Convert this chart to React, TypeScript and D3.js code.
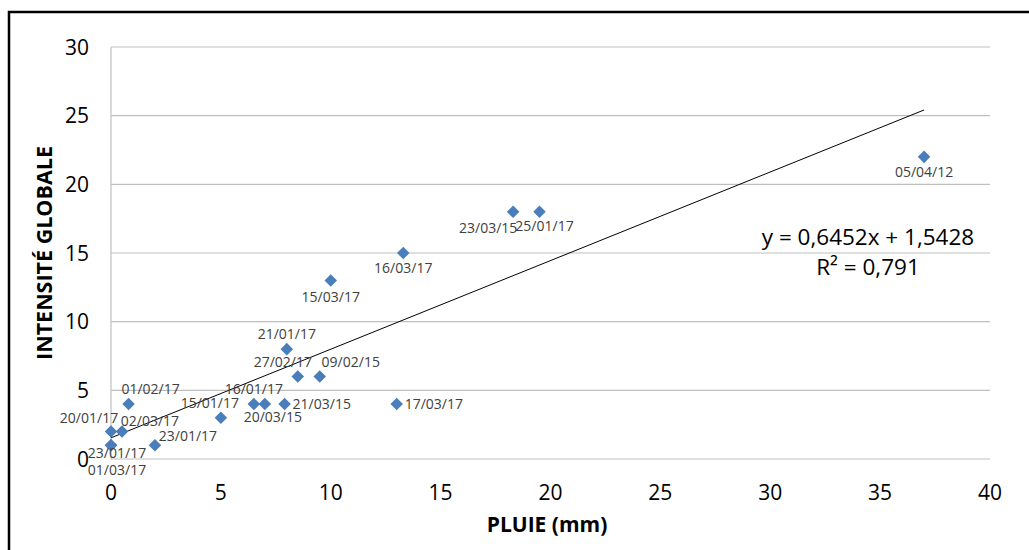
import React from "react";
import * as d3 from "d3";

// Data
const pluie: number[] = [37, 19.5, 18.3, 13.3, 10, 8, 8.5, 9.5, 13, 7.9, 7, 6.5, 5, 0.8, 0, 0.5, 2, 0, 0];
const intensite: number[] = [22, 18, 18, 15, 13, 8, 6, 6, 4, 4, 4, 4, 3, 4, 2, 2, 1, 1, 1];
const dates: string[] = [
  "05/04/12", "25/01/17", "23/03/15", "16/03/17", "15/03/17", "21/01/17", "27/02/17", "09/02/15",
  "17/03/17", "21/03/15", "20/03/15", "16/01/17", "15/01/17", "01/02/17", "20/01/17", "02/03/17",
  "23/01/17", "23/01/17", "01/03/17",
];
const xTicks: number[] = [0, 5, 10, 15, 20, 25, 30, 35, 40];
const yTicks: number[] = [0, 5, 10, 15, 20, 25, 30];
const slope = 0.6452;
const intercept = 1.5428;
const trendX: number[] = [0, 37];
const eqLine1 = "y = 0,6452x + 1,5428";
const eqLine2 = "R² = 0,791";
const xTitle = "PLUIE (mm)";
const yTitle = "INTENSITÉ GLOBALE";

// Label placement (layout only): [dx, dy, anchor]
const labelLayout: [number, number, string][] = [
  [0, 15, "middle"], [5, 14, "middle"], [-25, 16, "middle"], [0, 15, "middle"], [0, 16, "middle"],
  [0, -15, "middle"], [-15, -15, "middle"], [31, -15, "middle"], [8, 0, "start"], [8, 0, "start"],
  [8, 13, "middle"], [0, -15, "middle"], [-11, -15, "middle"], [22, -15, "middle"], [-22, -14, "middle"],
  [28, -11, "middle"], [33, -9, "middle"], [6, 8, "middle"], [6, 25, "middle"],
];

const W = 1029;
const H = 550;
const FONT = "'Open Sans', 'Noto Sans', sans-serif";

export default function App() {
  const x = d3.scaleLinear().domain([0, 40]).range([111, 990]);
  const y = d3.scaleLinear().domain([0, 30]).range([459, 47]);
  const diamond = d3.symbol().type(d3.symbolDiamond2).size(100)();
  const trend = d3.line<number>().x((d) => x(d)).y((d) => y(slope * d + intercept))(trendX) || "";

  return (
    <svg width={W} height={H} style={{ position: "absolute", left: 0, top: 0, background: "#fff" }} fontFamily={FONT}>
      <rect x={0} y={0} width={W} height={H} fill="#fff" />
      {/* frame */}
      <path d={`M9,${H} L9,12 L${W},12`} fill="none" stroke="#000" strokeWidth={2.5} />
      {/* gridlines */}
      {yTicks.map((t) => (
        <line key={"g" + t} x1={x(0)} x2={x(40)} y1={y(t)} y2={y(t)} stroke="#bfbfbf" strokeWidth={1.2} />
      ))}
      <line x1={x(0)} x2={x(0)} y1={y(0)} y2={y(30)} stroke="#bfbfbf" strokeWidth={1.2} />
      {/* y tick labels */}
      {yTicks.map((t) => (
        <text key={"yt" + t} x={x(0) - 22} y={y(t)} dy="0.36em" textAnchor="end" fontSize={21} fill="#000">
          {t}
        </text>
      ))}
      {/* x tick labels */}
      {xTicks.map((t) => (
        <text key={"xt" + t} x={x(t)} y={492} dy="0.36em" textAnchor="middle" fontSize={21} fill="#000">
          {t}
        </text>
      ))}
      {/* axis titles */}
      <text x={547} y={524} dy="0.36em" textAnchor="middle" fontSize={21} fontWeight="bold" fill="#000">
        {xTitle}
      </text>
      <text
        transform={`translate(44,253) rotate(-90)`}
        dy="0.36em"
        textAnchor="middle"
        fontSize={21.5}
        fontWeight="bold"
        fill="#000"
      >
        {yTitle}
      </text>
      {/* trend line */}
      <path d={trend} fill="none" stroke="#000" strokeWidth={1} />
      {/* points */}
      {pluie.map((p, i) => (
        <path key={"p" + i} d={diamond || ""} transform={`translate(${x(p)},${y(intensite[i])})`} fill="#4a7ebb" />
      ))}
      {/* point labels */}
      {dates.map((d, i) => (
        <text
          key={"l" + i}
          x={x(pluie[i]) + labelLayout[i][0]}
          y={y(intensite[i]) + labelLayout[i][1]}
          dy="0.36em"
          textAnchor={labelLayout[i][2] as any}
          fontSize={14}
          fill="#404040"
        >
          {d}
        </text>
      ))}
      {/* equation */}
      <text x={868} y={237} dy="0.36em" textAnchor="middle" fontSize={22.5} fill="#000">
        {eqLine1}
      </text>
      <text x={868} y={267} dy="0.36em" textAnchor="middle" fontSize={22.5} fill="#000">
        {eqLine2}
      </text>
    </svg>
  );
}
